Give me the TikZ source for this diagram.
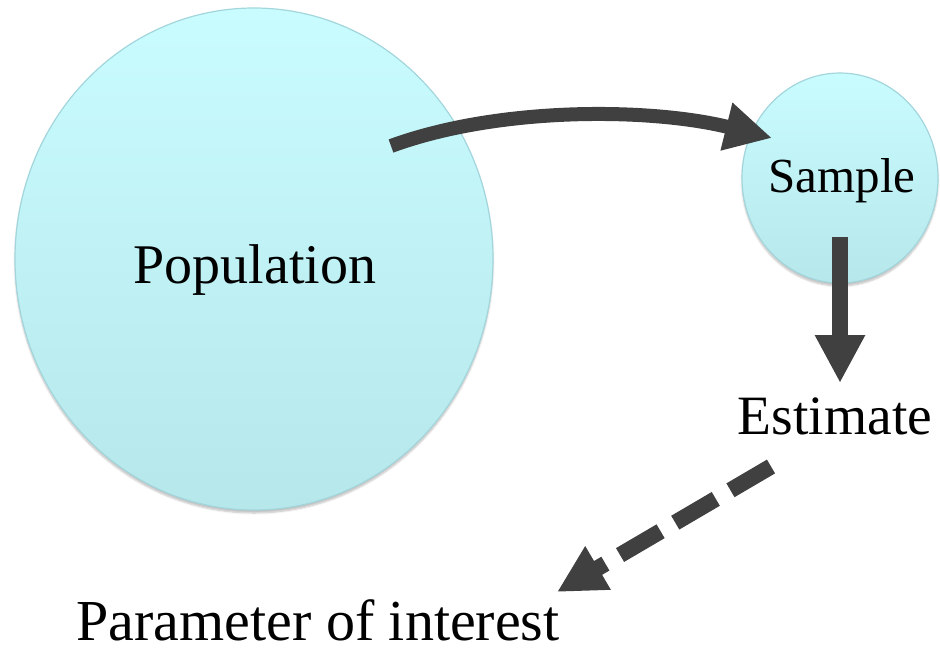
\documentclass[tikz,border=0pt]{standalone}
\usepackage{fontspec}
\setmainfont{Liberation Serif}
\usetikzlibrary{arrows.meta,shapes.geometric,shadows.blur}
\definecolor{cyantop}{HTML}{C9FCFF}
\definecolor{cyanbot}{HTML}{B6E7EB}
\definecolor{cyanedge}{HTML}{A3D6DC}
\definecolor{arrowgray}{HTML}{404040}
\tikzset{
  blob/.style={ellipse, inner sep=0pt, draw=cyanedge, line width=1.2pt,
    top color=cyantop, bottom color=cyanbot,
    blur shadow={shadow xshift=0pt, shadow yshift=-3pt, shadow opacity=25, shadow blur steps=6}},
  lbl/.style={anchor=base, inner sep=0pt, text=black, text depth=0pt},
  thickarrow/.style={draw=arrowgray, line width=#1},
}
\begin{document}
\begin{tikzpicture}[x=1pt,y=-1pt]
\useasboundingbox (0,0) rectangle (940,654);
% circles
\node[blob, minimum width=478pt, minimum height=502pt] (pop) at (254,259) {};
\node[blob, minimum width=196pt, minimum height=210pt] (samp) at (840,178) {};
% labels
\node[lbl, font=\fontsize{56}{60}\selectfont] (poptxt) at (255,283) {Population};
\node[lbl, font=\fontsize{49}{52}\selectfont] (samptxt) at (842,192) {Sample};
\node[lbl, font=\fontsize{55.5}{60}\selectfont] (est) at (835,434) {Estimate};
\node[lbl, font=\fontsize{58}{62}\selectfont] (param) at (318,640) {Parameter of interest};
% connector end points
\coordinate (c1) at (391,146);
\coordinate (c2) at (772,138);
\coordinate (d1) at (840,237);
\coordinate (d2) at (840,383);
\coordinate (e1) at (771,466.5);
\coordinate (e2) at (557,592);
% arrows
\draw[thickarrow=14pt, -{Triangle[length=47pt,width=46pt]}]
  (c1) .. controls (500,106) and (652,108) .. (c2);
\draw[thickarrow=16pt, -{Triangle[length=48pt,width=47pt]}] (d1) -- (d2);
\draw[thickarrow=16pt, dash pattern=on 47pt off 17pt, -{Triangle[length=47.6pt,width=47pt]}] (e1) -- (e2);
\end{tikzpicture}
\end{document}
